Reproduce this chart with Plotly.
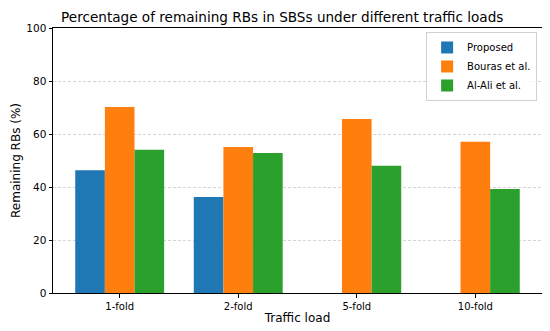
import plotly.graph_objects as go

categories = ["1-fold", "2-fold", "5-fold", "10-fold"]
proposed = [46.3, 36.2, 0, 0]
bouras = [70.2, 55.1, 65.7, 57.1]
alali = [54.1, 52.8, 48.0, 39.2]
series_names = ["Proposed", "Bouras et al.", "Al-Ali et al."]
colors = ["#1f77b4", "#ff7f0e", "#2ca02c"]

fig = go.Figure()
for name, vals, c in zip(series_names, [proposed, bouras, alali], colors):
    fig.add_trace(go.Bar(x=categories, y=vals, name=name, marker=dict(color=c, line=dict(width=0))))

fig.update_layout(
    width=542, height=323,
    margin=dict(l=45, r=8, t=20, b=38),
    paper_bgcolor="white", plot_bgcolor="white",
    font=dict(family="DejaVu Sans", size=10, color="black"),
    title=dict(text="Percentage of remaining RBs in SBSs under different traffic loads",
               x=0.506, xanchor="center", y=0.972, yanchor="middle", font=dict(size=13.6)),
    barmode="group", bargap=0.25, bargroupgap=0,
    showlegend=True,
    legend=dict(x=0.99, y=0.985, xanchor="right", yanchor="top",
                bordercolor="#d0d0d0", borderwidth=1, bgcolor="rgba(255,255,255,0.8)",
                font=dict(size=10), tracegroupgap=0, itemwidth=30),
    xaxis=dict(range=[-0.5625, 3.5625], showline=True, linecolor="black", linewidth=1,
               mirror=True, ticks="outside", ticklen=3.5, tickcolor="black",
               tickfont=dict(size=10),
               title=dict(text="Traffic load", font=dict(size=12), standoff=3),
               showgrid=False, automargin=False),
    yaxis=dict(range=[0, 100], dtick=20, showline=True, linecolor="black", linewidth=1,
               mirror=True, ticks="outside", ticklen=3.5, tickcolor="black",
               tickfont=dict(size=10.5),
               showgrid=True, gridcolor="#d6d6d6", griddash="3px,2px", gridwidth=0.8,
               title=dict(text="Remaining RBs (%)", font=dict(size=12), standoff=3),
               zeroline=False, automargin=False),
)

fig.write_html("out.html")
